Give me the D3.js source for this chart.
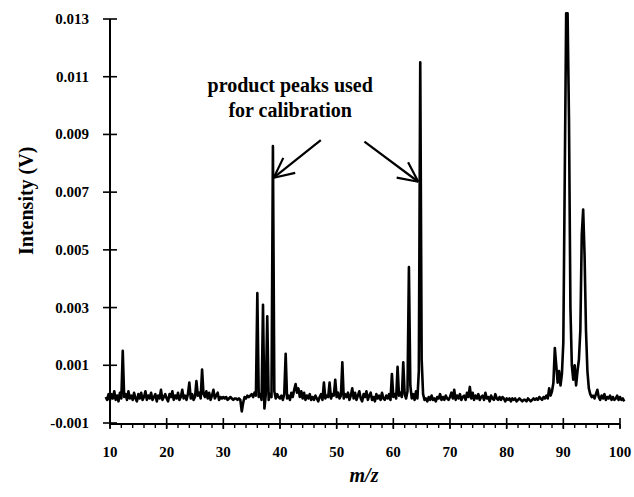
<!DOCTYPE html>
<html lang="en">
<head>
<meta charset="UTF-8">
<script src="https://d3js.org/d3.v7.min.js"></script>
<style>
    body { margin: 0; background: #fff; }
    text { font-family: "Liberation Serif", "Times New Roman", serif; fill: #000; }
    .tick-label { font-size: 15px; font-weight: bold; }
    .trace { fill: none; stroke: #000; stroke-width: 2.6; stroke-linejoin: round; }
</style>
</head>
<body>
<svg id="canvas" width="634" height="497"></svg>
<script>
    // spectrum sampled every 0.25 m/z starting at 9.25; intensity in units of 1e-4 V
    const mzStart = 9.25;
    const mzStep = 0.25;
    const intensity = [
        -1, -2, 0,
        -2, 0, -1.5, 1, -2, -0.5, -2.5, 0.5, -1.5, 15, -1, 0, -2, 1, -1.5, -0.5, -2, 0.5, -1.5, -2.5,
        0, -1.5, 0.5, -2, -1, 1, -2, -0.5, -1.5, 0.5, -2, -1, 0, -2.5, -0.5, -1.5, 1.5, -2, -1, 0,
        -1.5, -2.5, 0, -1, 1, -2, -0.5, -1.5, 0.5, -2, -1, 1.5, -1.5, -0.5, -2, 0, 4, -1.5, 0, -2,
        -1, 4.5, -0.5, 0.5, -1.5, 8.5, 0, -1, 1, -1.5, 0.5, -2, -0.5, 1.5, -1.5, -0.5, 0.5, -2, -1, -1.5,
        -1, -1.5, -1, -2, -1.5, -1, -1.5, -2, -1.5, -1.5, -2, -1.5, -2, -6, -3, -1, -1.5, -0.5, -1, -0.5,
        0, -1, 0.5, -0.5, 35, -1, 0, -2, 31, -5, 0, 27, -2, 0, -1, 86, 1, -1.5, 0, -1,
        -1.5, -0.5, -2, 0, 14, -1.5, -0.5, -2, 0.5, -1, 1.5, 3.5, 0.5, 2, -1, 1, -1.5, 0.5, -2, -0.5,
        -1.5, 0, -2, -1, -2, -0.5, -1.5, -2.5, -1, 0, -2, 4, -1.5, -0.5, -1, 4, -1.5, 0, -0.5, 5,
        -1, 0.5, -1.5, -0.5, 11, -1.5, 0, -1, 0.5, -2, -0.5, 2, -1.5, 0.5, -2, -0.5, 1, -1.5, -2.5, 0,
        -1, 1, -2, -0.5, 0.5, -2, -1, -2.5, 0, -1.5, -0.5, -2, 0.5, -1.5, -2, -0.5, -1.5, 0, -2, 7,
        -1, 0, -1.5, 9.5, -0.5, 0.5, -1, 11, 0, -1.5, 1, 44, 3, -1.5, 0, -2, 1, -1.5, 8, 115,
        12, 0, -2, -1.5, -2.5, -1, -2, -0.5, -2, -1.5, -2.5, -1, -1.5, 0, -2, -1, -2, -0.5, -1.5, -2,
        -1, 0.5, -1.5, 1.5, -2, -0.5, -1.5, 0, -2, -1, -0.5, -2, 0.5, -1, 2.5, -1.5, 0.5, -2, -0.5, -1.5,
        0, -2, -1, -0.5, -2, 0.5, -1.5, -1, -2.5, -0.5, -1.5, -2, 0, -1.5, -2, -1, -2, -1, -1.5, -2.5,
        -1.5, -2, -1.5, -2.5, -1.5, -2, -1.5, -2.5, -2, -1.5, -2, -2.5, -2, -2, -2.5, -1.5, -2, -2.5, -2, -1.5,
        -2, -1.5, -2, -1, -1.5, -2, -1, -1.5, -0.5, -1.5, 2, -0.5, 1, 4, 16, 10, 4, 8, 3, 7,
        18, 75, 132, 132, 95, 30, 10, 5, 10, 3, 8, 12, 22, 55, 64, 48, 22, 8, 2, 0,
        -1, -0.5, -1.5, 0, 1.5, -1, -2, -0.5, -1.5, 0, -2, -1, -1.5, -0.5, -2, -1, -2, -1.5, -0.5, -2,
        -1, -2, -1.5, -2.5
    ];

    const xTicks = [10, 20, 30, 40, 50, 60, 70, 80, 90, 100];
    const yTicks = [-10, 10, 30, 50, 70, 90, 110, 130];
    const yTickLabels = ["-0.001", "0.001", "0.003", "0.005", "0.007", "0.009", "0.011", "0.013"];

    const annotationLines = ["product peaks used", "for calibration"];
    const annotationAnchor = [41.8, 104.7]; // m/z, intensity of first text line
    const arrows = [
        { from: [47.2, 88], to: [38.9, 75] },
        { from: [54.9, 87.5], to: [64.4, 73.6] }
    ];

    const data = intensity.map((v, i) => ({ mz: mzStart + i * mzStep, v: v }));

    let svg = d3.select("#canvas");
    let margins = { top: 19, right: 14, bottom: 74, left: 110 };
    let chartWidth = 634 - margins.left - margins.right;
    let chartHeight = 497 - margins.top - margins.bottom;

    let chartArea = svg.append("g")
        .attr("transform", `translate(${margins.left},${margins.top})`);

    const xScale = d3.scaleLinear().domain([10, 100]).range([0, chartWidth]);
    const yScale = d3.scaleLinear().domain([-10, 130]).range([chartHeight, 0]);

    // trace
    const lineGenerator = d3.line()
        .x(d => xScale(d.mz))
        .y(d => yScale(d.v));

    chartArea.append("path")
        .datum(data)
        .attr("class", "trace")
        .attr("d", lineGenerator);

    // x axis: minor ticks every 2, major every 10
    let xAxisG = chartArea.append("g")
        .attr("transform", `translate(0, ${chartHeight + 1})`);
    xAxisG.append("line")
        .attr("x1", 0).attr("x2", chartWidth)
        .attr("stroke", "#000").attr("stroke-width", 2);
    xAxisG.selectAll(".minor")
        .data(d3.range(10, 101, 2))
        .join("line")
        .attr("x1", d => xScale(d)).attr("x2", d => xScale(d))
        .attr("y1", 0).attr("y2", 4)
        .attr("stroke", "#000").attr("stroke-width", 1.4);
    xAxisG.selectAll(".major")
        .data(xTicks)
        .join("line")
        .attr("x1", d => xScale(d)).attr("x2", d => xScale(d))
        .attr("y1", -6).attr("y2", 5)
        .attr("stroke", "#000").attr("stroke-width", 1.6);
    xAxisG.selectAll(".xlab")
        .data(xTicks)
        .join("text")
        .attr("class", "tick-label")
        .attr("x", d => xScale(d))
        .attr("y", 33)
        .attr("text-anchor", "middle")
        .text(d => d);

    // y axis
    let yAxisG = chartArea.append("g");
    yAxisG.append("line")
        .attr("y1", yScale(130)).attr("y2", chartHeight + 1)
        .attr("stroke", "#000").attr("stroke-width", 2);
    yAxisG.selectAll(".ytick")
        .data(yTicks)
        .join("line")
        .attr("x1", -7).attr("x2", 7)
        .attr("y1", d => yScale(d)).attr("y2", d => yScale(d))
        .attr("stroke", "#000").attr("stroke-width", 1.6);
    yAxisG.selectAll(".ylab")
        .data(yTicks)
        .join("text")
        .attr("class", "tick-label")
        .attr("x", -21)
        .attr("y", d => yScale(d) + 5)
        .attr("text-anchor", "end")
        .text((d, i) => yTickLabels[i]);

    // axis titles
    svg.append("text")
        .attr("transform", `translate(33, ${margins.top + yScale(67)}) rotate(-90)`)
        .attr("text-anchor", "middle")
        .style("font-size", "20px")
        .style("font-weight", "bold")
        .text("Intensity (V)");

    svg.append("text")
        .attr("x", 364)
        .attr("y", 482)
        .attr("text-anchor", "middle")
        .style("font-size", "20px")
        .style("font-style", "italic")
        .style("font-weight", "bold")
        .text("m/z");

    // annotation
    chartArea.selectAll(".note")
        .data(annotationLines)
        .join("text")
        .attr("x", xScale(annotationAnchor[0]))
        .attr("y", (d, i) => yScale(annotationAnchor[1]) + i * 25)
        .attr("text-anchor", "middle")
        .style("font-size", "20px")
        .style("font-weight", "bold")
        .text(d => d);

    arrows.forEach(a => {
        let x1 = xScale(a.from[0]), y1 = yScale(a.from[1]);
        let x2 = xScale(a.to[0]), y2 = yScale(a.to[1]);
        let ang = Math.atan2(y2 - y1, x2 - x1);
        let g = chartArea.append("g")
            .attr("stroke", "#000").attr("stroke-width", 2.2).attr("fill", "none");
        g.append("line").attr("x1", x1).attr("y1", y1).attr("x2", x2).attr("y2", y2);
        [-0.45, 0.45].forEach(off => {
            g.append("line")
                .attr("x1", x2).attr("y1", y2)
                .attr("x2", x2 - 22 * Math.cos(ang + off))
                .attr("y2", y2 - 22 * Math.sin(ang + off));
        });
    });
</script>
</body>
</html>
